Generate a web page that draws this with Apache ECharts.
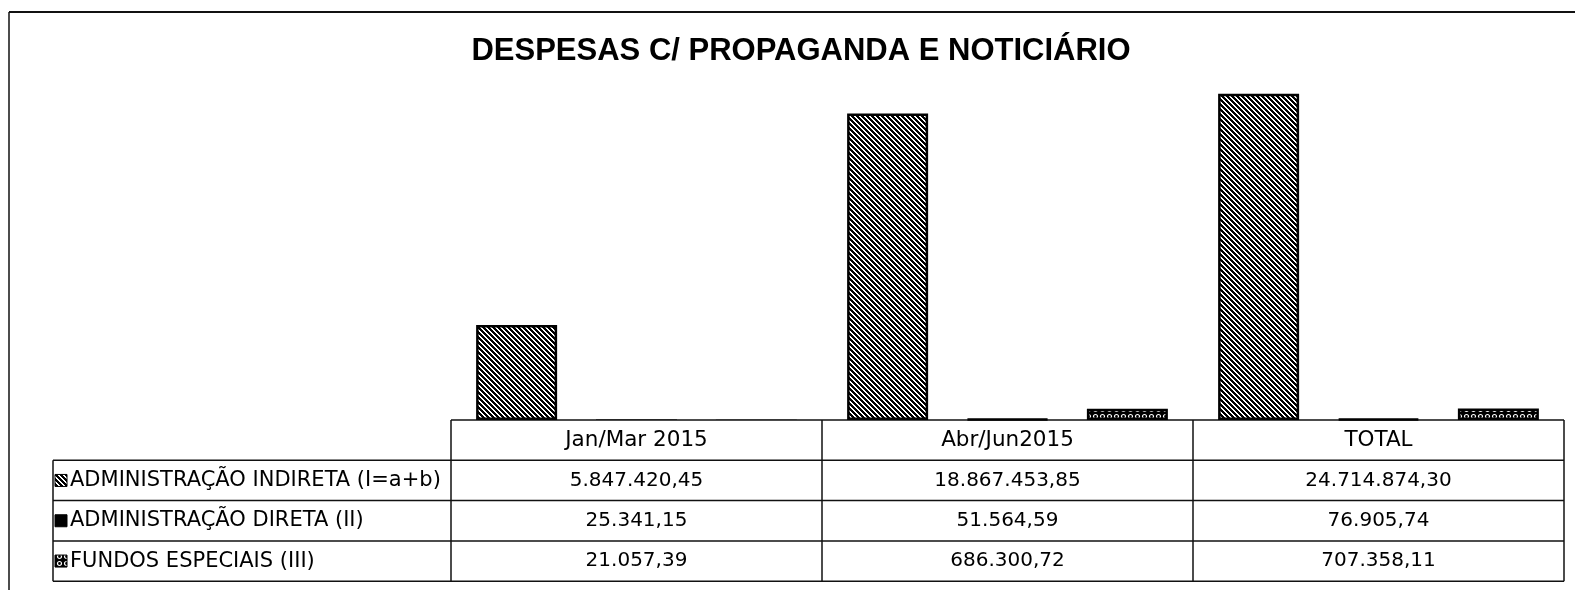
<!DOCTYPE html>
<html>
<head>
<meta charset="utf-8">
<style>html,body{margin:0;padding:0;background:#fff}#main{width:1575px;height:590px}</style>
</head>
<body>
<div id="main"></div>
<script src="https://cdn.jsdelivr.net/npm/echarts@6/dist/echarts.min.js"></script>
<script>
var categories = ['Jan/Mar 2015', 'Abr/Jun2015', 'TOTAL'];
var seriesNames = ['ADMINISTRAÇÃO INDIRETA (I=a+b)', 'ADMINISTRAÇÃO DIRETA (II)', 'FUNDOS ESPECIAIS (III)'];
var indireta = [5847420.45, 18867453.85, 24714874.30];
var direta = [25341.15, 51564.59, 76905.74];
var fundos = [21057.39, 686300.72, 707358.11];
var yMax = 20000000;

// 18867453.85 -> 18.867.453,85
function fmt(v) {
    var p = v.toFixed(2).split('.');
    return p[0].replace(/\B(?=(\d{3})+(?!\d))/g, '.') + ',' + p[1];
}

// padroes de preenchimento (hachura / bolinhas)
function hatch() {
    var c = document.createElement('canvas');
    c.width = 5; c.height = 5;
    var g = c.getContext('2d');
    g.fillStyle = '#fff'; g.fillRect(0, 0, 5, 5);
    g.fillStyle = '#000';
    for (var y = 0; y < 5; y++)
        for (var x = 0; x < 5; x++)
            if (((x - y) % 5 + 5) % 5 < 3) g.fillRect(x, y, 1, 1);
    return c;
}
function dots() {
    var c = document.createElement('canvas');
    c.width = 7; c.height = 7;
    var g = c.getContext('2d');
    g.fillStyle = '#000'; g.fillRect(0, 0, 7, 7);
    g.strokeStyle = '#fff'; g.lineWidth = 1.2;
    g.beginPath(); g.arc(3.5, 3.5, 2, 0, Math.PI * 2); g.stroke();
    return c;
}
var fills = [
    {image: hatch(), repeat: 'repeat'},
    '#000',
    {image: dots(), repeat: 'repeat'}
];
var values = [indireta, direta, fundos];

var chart = echarts.init(document.getElementById('main'));
var font = 'DejaVu Sans';
var gridTop = 95, gridBottom = 170;
var pxPerUnit = (590 - gridTop - gridBottom) / yMax;

var option = {
    animation: false,
    title: {
        text: 'DESPESAS C/ PROPAGANDA E NOTICIÁRIO',
        left: 796,
        textAlign: 'center',
        top: 31,
        textStyle: {fontFamily: 'Liberation Sans', fontWeight: 'bold', fontSize: 31, color: '#000'}
    },
    grid: {left: 451, right: 11, top: gridTop, bottom: gridBottom},
    xAxis: {
        type: 'category',
        data: categories,
        axisLine: {show: false},
        axisTick: {show: false},
        axisLabel: {show: false}
    },
    yAxis: {type: 'value', min: 0, max: yMax, show: false, splitLine: {show: false}},
    series: values.map(function (arr, i) {
        return {
            name: seriesNames[i],
            type: 'bar',
            // barras com menos de meio pixel nao aparecem no original
            data: arr.map(function (v) {
                return v * pxPerUnit < 0.5 ? {value: v, itemStyle: {borderWidth: 0}} : v;
            }),
            barWidth: 81,
            barGap: '48%',
            clip: true,
            itemStyle: {color: fills[i], borderColor: '#000', borderWidth: 2.5}
        };
    })
};
chart.setOption(option);

// tabela de dados abaixo do grafico
var c0 = chart.convertToPixel({xAxisIndex: 0}, 0);
var c1 = chart.convertToPixel({xAxisIndex: 0}, 1);
var band = c1 - c0;
var tLeft = c0 - band / 2;
var tRight = tLeft + band * categories.length;
var base = chart.convertToPixel({yAxisIndex: 0}, 0);
var rowH = 40.3;
var labLeft = 53;
var bottom = base + rowH * 4;
var els = [];

function line(x1, y1, x2, y2, w) {
    els.push({type: 'line', shape: {x1: x1, y1: y1, x2: x2, y2: y2},
        style: {stroke: '#111', lineWidth: w || 1.5}, silent: true});
}
function text(t, x, y, align, size) {
    els.push({type: 'text', x: x, y: y, silent: true,
        style: {text: t, fill: '#000', font: size + 'px "' + font + '"', align: align, verticalAlign: 'middle'}});
}

// moldura
line(9, 12, 1575, 12, 2);
line(9, 12, 9, 590, 1.5);

line(tLeft, base, tRight, base);
for (var r = 1; r <= 4; r++) line(labLeft, base + rowH * r, tRight, base + rowH * r);
for (var k = 0; k <= categories.length; k++) line(tLeft + band * k, base, tLeft + band * k, bottom);
line(labLeft, base + rowH, labLeft, bottom);

categories.forEach(function (cat, j) {
    text(cat, tLeft + band * (j + 0.5), base + rowH * 0.5, 'center', 21.5);
});
values.forEach(function (arr, i) {
    var cy = base + rowH * (i + 1.5);
    els.push({type: 'rect', shape: {x: 55, y: cy - 6, width: 12, height: 12},
        style: {fill: fills[i], stroke: '#000', lineWidth: 1}, silent: true});
    text(seriesNames[i], 70, cy, 'left', 21);
    arr.forEach(function (v, j) {
        text(fmt(v), tLeft + band * (j + 0.5), cy, 'center', 20);
    });
});

chart.setOption({graphic: els});
</script>
</body>
</html>
